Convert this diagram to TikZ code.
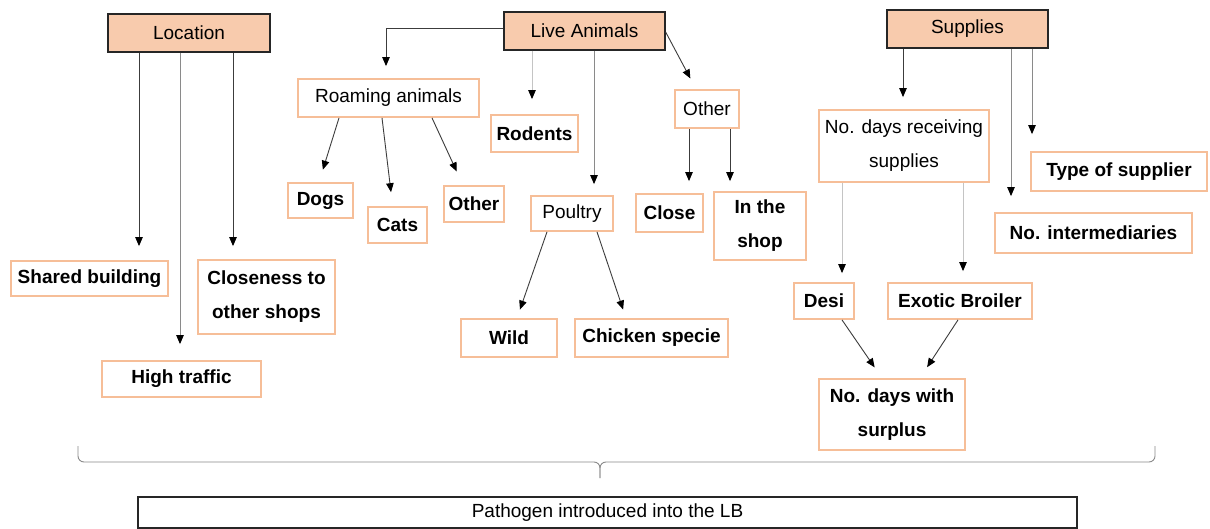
\documentclass[tikz,border=0pt]{standalone}
\usepackage{fontspec}
\setmainfont{Liberation Sans}
\usetikzlibrary{arrows.meta,calc}
\definecolor{peach}{HTML}{F8CBAD}
\definecolor{peachline}{HTML}{F6BE98}
\definecolor{inkline}{HTML}{3C3C3C}
\definecolor{softline}{HTML}{8A8A8A}
\definecolor{paleline}{HTML}{C4C4C4}
\definecolor{bracegray}{HTML}{8A8A8A}
\begin{document}
\begin{tikzpicture}[x=1pt,y=-1pt,
  every node/.style={font=\fontsize{19}{34}\selectfont, inner sep=0pt, align=center},
  head/.style={draw=black!85, fill=peach, line width=1.3pt},
  box/.style={draw=peachline, fill=white, line width=1.8pt},
  leaf/.style={box, font=\fontsize{19}{34}\selectfont\bfseries},
  arr/.style={draw=inkline, line width=0.9pt, -{Triangle[length=9pt,width=7.5pt,color=black]}},
  softarr/.style={arr, draw=softline},
  palearr/.style={arr, draw=paleline},
  sz/.style 2 args={minimum width=#1, minimum height=#2}
]
\fill[white] (0,0) rectangle (1210,529);
\useasboundingbox (0,0) rectangle (1210,529);

% category headers
\node[head, sz={162}{38}] (loc)  at (189,33)    {Location};
\node[head, sz={161}{38}] (live) at (584.5,31)  {Live Animals};
\node[head, sz={161}{38}] (sup)  at (967.5,29)  {Supplies};

% location factors
\node[leaf, sz={157}{35}] (shared)  at (89.5,278.5) {Shared building};
\node[leaf, sz={137}{74}] (closen)  at (266.5,297)  {Closeness to\\other shops};
\node[leaf, sz={159}{36}] (traffic) at (181.5,379)  {High traffic};

% live animal factors
\node[box,  sz={181}{38}] (roam)    at (388.5,98)   {Roaming animals};
\node[leaf, sz={87}{37}]  (rodents) at (534.5,133.5){Rodents};
\node[box,  sz={82}{35}]  (poultry) at (572,213.5)  {Poultry};
\node[box,  sz={64}{38}]  (otherla) at (707,109)    {Other};
\node[leaf, sz={67}{38}]  (closeb)  at (669.5,213)  {Close};
\node[leaf, sz={92}{68}]  (inshop)  at (760,226)    {In the\\shop};
\node[leaf, sz={65}{35}]  (dogs)    at (320.5,200.5){Dogs};
\node[leaf, sz={59}{36}]  (cats)    at (397.5,225)  {Cats};
\node[leaf, sz={60}{36}]  (otherb)  at (474,204)    {Other};
\node[leaf, sz={96}{38}]  (wild)    at (509,338)    {Wild};
\node[leaf, sz={153}{38}] (chick)   at (651.5,338)  {Chicken specie};

% supply factors
\node[box,  sz={170}{72}] (ndays)   at (904,146)    {No. days receiving\\supplies};
\node[leaf, sz={197}{40}] (inter)   at (1093.5,233) {No. intermediaries};
\node[leaf, sz={176}{39}] (stype)   at (1119,171.5) {Type of supplier};
\node[leaf, sz={60}{36}]  (desi)    at (824,301)    {Desi};
\node[leaf, sz={144}{36}] (exotic)  at (960,301)    {Exotic Broiler};
\node[leaf, sz={146}{71}] (surplus) at (892,414.5)  {No. days with\\surplus};

% outcome
\node[draw=black!85, line width=1.1pt, fill=white, sz={939}{31}] (path) at (607.5,512.5)
  {Pathogen introduced into the LB};

% location arrows
\draw[arr, shorten >=14pt] (loc.south -| 139,0) -- (139,0 |- shared.north);
\draw[softarr, shorten >=16pt] (loc.south -| 180,0) -- (180,0 |- traffic.north);
\draw[arr, shorten >=13pt] (loc.south -| 233,0) -- (233,0 |- closen.north);

% live animal arrows
\draw[arr, shorten >=12pt] ([yshift=3pt]live.west) -| (386,0 |- roam.north);
\draw[palearr, shorten >=15pt] (live.south -| 532,0) -- (532,0 |- rodents.north);
\draw[softarr, shorten >=11pt] (live.south -| 594,0) -- (594,0 |- poultry.north);
\draw[arr, shorten >=12pt] ([yshift=-1pt]live.east) -- (696,0 |- otherla.north);
\draw[arr, shorten >=12pt] (otherla.south -| 689,0) -- (689,0 |- closeb.north);
\draw[arr, shorten >=10pt] (otherla.south -| 730,0) -- (730,0 |- inshop.north);
\draw[arr, shorten >=13pt] (roam.south -| 339,0) -- (319,0 |- dogs.north);
\draw[arr, shorten >=14pt] (roam.south -| 382,0) -- (392.7,0 |- cats.north);
\draw[arr, shorten >=15pt] (roam.south -| 432,0) -- (463,0 |- otherb.north);
\draw[arr, shorten >=9pt] (poultry.south -| 547,0) -- (517,0 |- wild.north);
\draw[arr, shorten >=9pt] (poultry.south -| 597,0) -- (626,0 |- chick.north);

% supply arrows
\draw[arr, shorten >=12pt] (sup.south -| 903,0) -- (903,0 |- ndays.north);
\draw[softarr, shorten >=16pt] (sup.south -| 1011,0) -- (1011,0 |- inter.north);
\draw[softarr, shorten >=17pt] (sup.south -| 1032,0) -- (1032,0 |- stype.north);
\draw[palearr, shorten >=9pt] (ndays.south -| 842,0) -- (842,0 |- desi.north);
\draw[palearr, shorten >=11pt] (ndays.south -| 963,0) -- (963,0 |- exotic.north);
\draw[arr, shorten >=13pt] (desi.south -| 842,0) -- (882,0 |- surplus.north);
\draw[arr, shorten >=13pt] (exotic.south -| 958,0) -- (920,0 |- surplus.north);

% brace gathering all factors
\coordinate (bl) at (78,446);
\coordinate (br) at (1155,446);
\coordinate (btip) at (600,478);
\draw[bracegray, line width=0.9pt, rounded corners=6pt] (bl) -- (78,462) -- (600,462) -- (btip);
\draw[bracegray, line width=0.9pt, rounded corners=6pt] (br) -- (1155,462) -- (600,462) -- (btip);
\end{tikzpicture}
\end{document}
